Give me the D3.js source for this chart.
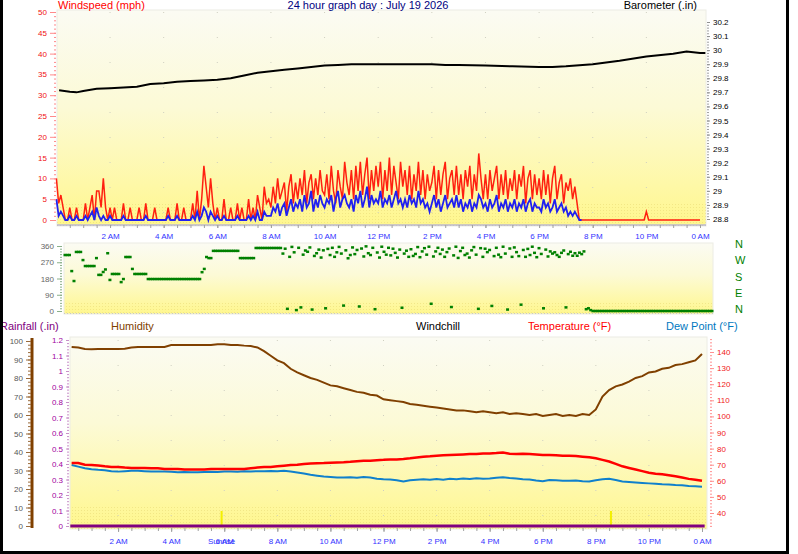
<!DOCTYPE html>
<html>
<head>
<meta charset="utf-8">
<script src="https://cdn.jsdelivr.net/npm/d3@7"></script>
<style>
body { margin: 0; background: #fff; }
svg text { font-family: "Liberation Sans", Arial, sans-serif; }
</style>
</head>
<body>
<div id="chart"></div>
<script>

// ---- data ----
const hourLabels = ["2 AM","4 AM","6 AM","8 AM","10 AM","12 PM","2 PM","4 PM","6 PM","8 PM","10 PM","0 AM"];
const labelHours = [2,4,6,8,10,12,14,16,18,20,22,24];

// wind gust (mph), one value every 5 minutes from 0:00
const windGust = [
  10,4,6,3,0,0,3,0,0,3,0,0,
  0,4,0,3,6,0,7,7,3,10,3,0,
  3,0,3,0,0,0,4,0,0,3,0,0,
  0,3,0,0,4,0,0,0,3,0,0,0,
  0,0,3,0,0,0,4,0,0,3,0,0,
  0,4,0,7,0,5,13,8,3,10,4,0,
  3,0,0,5,0,0,3,0,0,4,0,3,
  0,0,5,0,3,0,6,3,0,8,4,5,
  3,8,4,10,5,7,9,2,8,11,4,9,
  5,10,6,12,4,9,11,5,10,6,12,7,
  6,11,5,13,7,4,12,8,5,14,9,6,
  12,5,13,7,14,6,11,15,5,12,7,13,
  8,14,5,12,7,15,6,13,9,5,14,8,
  12,6,13,5,11,7,14,6,12,5,11,7,
  9,13,5,12,6,11,14,5,10,12,6,13,
  6,11,5,12,8,13,5,11,7,16,10,5,
  11,5,12,7,10,13,5,11,6,12,5,10,
  7,12,5,11,8,13,4,10,12,5,11,6,
  10,5,12,6,11,4,10,13,5,9,11,4,
  9,7,10,5,8,4,0,0,0,0,0,0,
  0,0,0,0,0,0,0,0,0,0,0,0,
  0,0,0,0,0,0,0,0,0,0,0,0,
  2,0,0,0,0,0,0,0,0,0,0,0,
  0,0,0,0,0,0,0,0,0,0,0,0,
  0
];

// average wind speed (mph), every 5 minutes until the wind dropped
const windSpeed = [
  5,1,2,1,0,0,1,0,0,1,0,0,
  0,1,0,1,2,0,3,1,0,1,0,0,
  1,0,0,0,0,0,1,0,0,0,0,0,
  0,0,0,0,1,0,0,0,0,0,0,0,
  0,0,1,0,0,0,1,0,0,0,0,0,
  0,1,0,2,0,1,3,2,0,2,1,0,
  1,0,0,1,0,0,0,0,0,1,0,0,
  0,0,1,0,1,0,2,0,0,2,1,1,
  1,3,2,4,1,3,4,1,3,5,2,4,
  3,5,2,6,3,4,7,2,5,3,6,4,
  3,5,4,6,2,5,7,3,5,6,4,3,
  5,2,6,4,7,3,5,8,3,6,4,5,
  4,7,3,5,4,6,3,5,7,4,5,3,
  5,3,6,4,5,3,7,4,5,3,4,2,
  4,6,3,5,2,4,6,3,4,5,3,6,
  3,5,2,4,3,5,2,4,3,6,5,3,
  4,2,5,3,4,6,2,4,3,5,2,4,
  3,5,2,4,3,5,2,4,5,2,4,3,
  3,2,5,3,4,2,3,5,2,3,4,2,
  3,1,2,1,2,1,0,0
];

// wind direction (degrees), every 5 minutes
const windDir = [
  310,310,310,221,166,327,327,327,282,249,249,249,
  249,249,293,200,200,216,230,320,172,205,205,205,
  205,160,177,299,299,299,233,205,205,205,205,205,
  205,177,177,177,177,177,177,177,177,177,177,177,
  177,177,177,177,177,177,177,177,177,177,177,177,
  177,215,233,299,293,293,333,333,333,333,333,333,
  333,333,333,333,333,333,293,293,293,293,293,293,
  293,349,349,349,349,349,349,349,349,349,349,349,
  349,318,345,12,300,355,325,5,350,20,312,335,
  328,352,8,305,320,340,296,336,15,344,310,350,
  300,325,355,318,30,336,292,310,352,315,338,25,
  346,302,358,320,310,350,10,324,296,356,328,312,
  350,308,345,322,296,340,18,318,334,300,342,305,
  316,354,298,330,348,312,356,40,302,330,350,316,
  340,300,326,346,22,308,356,294,332,350,310,318,
  296,336,354,312,12,348,300,345,326,338,28,304,
  350,312,298,356,318,8,346,300,352,326,304,35,
  338,300,344,310,356,322,298,348,316,15,340,302,
  330,318,325,310,300,322,335,20,315,328,306,320,
  306,323,315,330,10,15,5,0,0,0,0,0,
  0,0,0,0,0,0,0,0,0,0,0,0,
  0,0,0,0,0,0,0,0,0,0,0,0,
  0,0,0,0,0,0,0,0,0,0,0,0,
  0,0,0,0,0,0,0,0,0,0,0,0,
  0
];

// barometer (in)
const baroHours = [0.1,0.5,0.75,1,1.5,2,2.5,3,3.5,4,4.5,5,5.5,6,6.5,7,7.5,8,8.5,9,9.5,10,10.5,11,
  11.5,12,13,14,14.5,15,16,17,18,18.5,19,20,21,22,23,23.5,24,24.2];
const baro = [29.715,29.705,29.70,29.71,29.725,29.73,29.735,29.74,29.76,29.765,29.775,29.78,
  29.785,29.79,29.80,29.82,29.84,29.85,29.86,29.87,29.88,29.89,29.895,29.90,29.90,29.90,29.90,
  29.90,29.895,29.895,29.89,29.885,29.88,29.88,29.885,29.90,29.925,29.955,29.975,29.99,29.98,29.98];

// humidity / temperature / dew point, every 15 minutes from 0:15
const humidity = [
  96.8,96.5,95.7,95.5,95.7,95.7,95.7,95.7,95.8,96.5,96.8,96.8,
  96.8,96.8,96.8,97.8,97.8,97.8,97.8,97.8,97.8,97.8,98.3,98.3,
  97.8,97.8,97.5,97.3,96.5,94.5,92,89.5,88,85,83,81.5,
  80,79,77.5,76,75.5,74.5,73.5,72.5,72,71,70.5,68.5,
  68,67.5,67,66,65.5,65,64.5,64,63.5,63,62.5,62.5,
  62,61.5,62,61.5,61,61.5,60.5,61,60.5,60,60.5,59.5,
  60,60.5,59.5,60,59.5,60.5,60,63,70,73.5,75.5,76.5,
  78,80,81,83,83.5,85,85.5,87,87.5,88.5,89.5,93
];
const temperature = [
  71,71,70,69.8,69.5,69,68.6,68.6,68.2,68,68,68,
  67.8,67.8,67.4,67.4,67.4,67,67,67,67,67.4,67.4,67.4,
  67.4,67.4,67.4,67.8,68.2,68.6,68.6,69,69.4,69.8,70,70.5,
  70.7,70.9,71,71.2,71.4,71.5,71.8,72.2,72.5,72.5,72.8,73,
  73.3,73.3,73.6,74,74.5,75,75.2,75.5,75.8,76,76.2,76.4,
  76.6,76.6,77,77,77.2,77.5,76.8,76.6,76.8,76.6,76.4,76,
  76,75.8,75.6,75.6,75.4,75,74.6,74,73,72,70.5,69,
  68,67,66,65,64.4,64,63.4,62.8,62,61.2,60.6,60
];
const dewPoint = [
  69.8,68.8,67.8,67.2,66.8,66.6,65.9,65.7,66,66.3,66.2,66,
  65.8,65.7,65.7,65.6,65.3,65.5,65.3,65.3,65.5,65.6,65.5,65.7,
  65.7,65.6,65.9,65.8,66,66,66.1,66,66.2,65.8,65.2,64.6,
  63.8,63.2,62.6,62.4,62.1,62,62.2,61.9,62.4,62,61.3,61,
  60.8,60.4,59.6,60.3,60.6,60.9,60.7,61.1,60.6,61.3,61,61.4,
  61.1,61.6,61.3,61.5,61.9,62.2,61.7,61.4,61,60.8,60.2,59.8,
  60.5,60.3,60.1,60,60.2,59.7,59.5,60.3,61,61.3,60.5,59.6,
  59.3,59,58.7,58.4,58.1,57.8,57.7,57.4,57.2,56.8,56.6,56.3
];

// rainfall (in) - no rain all day
const rainHours = [0.2, 24.1];
const rainfall = [0, 0];

// sunrise / sunset (hours)
const sunHours = [5.9, 20.57];

// ---- drawing ----
const W = 798, H = 554;
const FONT = "Liberation Sans, Arial, sans-serif";

const svg = d3.select("#chart").append("svg")
  .attr("width", W).attr("height", H);

svg.append("rect").attr("width", W).attr("height", H).attr("fill", "#fff");

const defs = svg.append("defs");
const grad = defs.append("linearGradient").attr("id", "bg")
  .attr("x1", 0).attr("y1", 0).attr("x2", 0).attr("y2", 1);
grad.append("stop").attr("offset", "0%").attr("stop-color", "#fbfbf3");
grad.append("stop").attr("offset", "45%").attr("stop-color", "#fcfad6");
grad.append("stop").attr("offset", "100%").attr("stop-color", "#fff78e");

const pat = defs.append("pattern").attr("id", "dots")
  .attr("width", 3).attr("height", 3).attr("patternUnits", "userSpaceOnUse");
pat.append("rect").attr("width", 1).attr("height", 1).attr("fill", "#eadc78");

function panelBg(x0, y0, x1, y1, band) {
  svg.append("rect").attr("x", x0).attr("y", y0)
    .attr("width", x1 - x0).attr("height", y1 - y0)
    .attr("fill", "url(#bg)").attr("stroke", "#ecece4");
  svg.append("rect").attr("x", x0).attr("y", y1 - band)
    .attr("width", x1 - x0).attr("height", band)
    .attr("fill", "url(#dots)").attr("opacity", 0.6);
}

function styleAxis(g, tickColor, textColor, size) {
  g.select(".domain").remove();
  g.attr("font-family", FONT).attr("font-size", size);
  g.selectAll(".tick line").attr("stroke", tickColor);
  g.selectAll(".tick text").attr("fill", textColor);
  return g;
}

function label(x, y, txt, color, anchor, size) {
  svg.append("text").attr("x", x).attr("y", y)
    .attr("text-anchor", anchor || "start")
    .attr("font-size", size || 11)
    .attr("fill", color).text(txt);
}

const step = 1 / 12;
const fmt1 = d => String(+d.toFixed(2));

// ===== panel 1: wind speed + barometer =====
const x1 = d3.scaleLinear().domain([0, 24]).range([56.4, 700]);
const yWind = d3.scaleLinear().domain([0, 50]).range([220, 12]);
const yBaro = d3.scaleLinear().domain([28.8, 30.2]).range([219, 22]);

panelBg(57, 10, 706, 226, 22);

// faint grid
svg.append("g").selectAll("line").data(labelHours.slice(0, -1)).join("line")
  .attr("x1", d => x1(d)).attr("x2", d => x1(d)).attr("y1", 12).attr("y2", 224)
  .attr("stroke", "#cfcfc0").attr("stroke-dasharray", "1,24");

const baroLine = d3.line().x((d, i) => x1(baroHours[i])).y(d => yBaro(d));
svg.append("path").datum(baro).attr("d", baroLine)
  .attr("fill", "none").attr("stroke", "#000").attr("stroke-width", 2);

const gustLine = d3.line().x((d, i) => x1(i * step)).y(d => yWind(d));
svg.append("path").datum(windGust).attr("d", gustLine)
  .attr("fill", "none").attr("stroke", "#ff2010").attr("stroke-width", 1.5);
svg.append("path").datum(windSpeed).attr("d", gustLine)
  .attr("fill", "none").attr("stroke", "#2020f0").attr("stroke-width", 1.8);

// bottom line + time axis
svg.append("line").attr("x1", 57).attr("x2", 706).attr("y1", 225).attr("y2", 225)
  .attr("stroke", "#9a9af0");
styleAxis(svg.append("g").attr("transform", "translate(0,225)")
  .call(d3.axisBottom(x1).tickValues(d3.range(1, 48).map(v => v / 2)).tickSize(3).tickFormat("")),
  "#a0a0a0", "#000", 8);
styleAxis(svg.append("g").attr("transform", "translate(0,225)")
  .call(d3.axisBottom(x1).tickValues(labelHours).tickSize(3).tickPadding(5)
    .tickFormat((d, i) => hourLabels[i])),
  "#a0a0a0", "#3333ff", 8);

// wind axis (left)
styleAxis(svg.append("g").attr("transform", "translate(56,0)")
  .call(d3.axisLeft(yWind).tickValues(d3.range(0, 51)).tickSize(2).tickFormat("")),
  "#ff8a8a", "#f00", 8);
styleAxis(svg.append("g").attr("transform", "translate(56,0)")
  .call(d3.axisLeft(yWind).tickValues(d3.range(0, 51, 5)).tickSize(6).tickPadding(3)),
  "#ff8a8a", "#f01010", 8);

// barometer axis (right)
styleAxis(svg.append("g").attr("transform", "translate(707,0)")
  .call(d3.axisRight(yBaro).tickValues(d3.range(1440, 1511).map(v => v / 50)).tickSize(2).tickFormat("")),
  "#a0a0a0", "#000", 8);
styleAxis(svg.append("g").attr("transform", "translate(707,0)")
  .call(d3.axisRight(yBaro).tickValues(d3.range(288, 303).map(v => v / 10)).tickSize(3).tickPadding(3).tickFormat(fmt1)),
  "#909090", "#000", 8);

label(58, 9, "Windspeed (mph)", "#ff0000", "start", 11);
label(368, 9, "24 hour graph day : July 19 2026", "#000080", "middle", 11);
label(697, 9, "Barometer (.in)", "#000", "end", 11);

// ===== panel 2: wind direction =====
const x2 = d3.scaleLinear().domain([0, 24]).range([65, 712]);
const yDir = d3.scaleLinear().domain([0, 360]).range([311, 246]);

panelBg(64, 243, 713, 314, 12);

svg.append("line").attr("x1", 64).attr("x2", 713).attr("y1", 313.5).attr("y2", 313.5)
  .attr("stroke", "#c8c8c8").attr("stroke-dasharray", "1,2");

svg.append("g").selectAll("rect").data(windDir).join("rect")
  .attr("x", (d, i) => x2(i * step) - 1.5)
  .attr("y", d => yDir(d) - 1.25)
  .attr("width", 3).attr("height", 2.5)
  .attr("fill", "#008000");

styleAxis(svg.append("g").attr("transform", "translate(62,0)")
  .call(d3.axisLeft(yDir).tickValues(d3.range(0, 361, 15)).tickSize(2).tickFormat("")),
  "#8ab08a", "#666", 8);
styleAxis(svg.append("g").attr("transform", "translate(62,0)")
  .call(d3.axisLeft(yDir).tickValues([0, 90, 180, 270, 360]).tickSize(5).tickPadding(3)),
  "#8ab08a", "#666", 8);

const compass = ["N", "W", "S", "E", "N"];
svg.append("g").selectAll("text").data([360, 270, 180, 90, 0]).join("text")
  .attr("x", 735).attr("y", d => yDir(d) + 2)
  .attr("font-size", 11).attr("fill", "#008000")
  .text((d, i) => compass[i]);

// ===== panel 3: rain, humidity, temperature, dew point =====
const x3 = d3.scaleLinear().domain([0, 24]).range([65, 702]);
const yHum = d3.scaleLinear().domain([0, 100]).range([526, 341]);
const yRain = d3.scaleLinear().domain([0, 1.2]).range([526, 340]);
const yTemp = d3.scaleLinear().domain([40, 140]).range([513, 352]);

panelBg(70, 337, 707, 529, 22);

svg.append("g").selectAll("line").data(labelHours.slice(0, -1)).join("line")
  .attr("x1", d => x3(d)).attr("x2", d => x3(d)).attr("y1", 340).attr("y2", 525)
  .attr("stroke", "#cfcfc0").attr("stroke-dasharray", "1,24");

// sunrise / sunset markers
svg.append("g").selectAll("line").data(sunHours).join("line")
  .attr("x1", d => x3(d)).attr("x2", d => x3(d)).attr("y1", 511).attr("y2", 526)
  .attr("stroke", "#f4f000").attr("stroke-width", 2);

const metX = (d, i) => x3((i + 1) / 4);
svg.append("path").datum(humidity)
  .attr("d", d3.line().x(metX).y(d => yHum(d)))
  .attr("fill", "none").attr("stroke", "#804000").attr("stroke-width", 2);
svg.append("path").datum(dewPoint)
  .attr("d", d3.line().x(metX).y(d => yTemp(d)))
  .attr("fill", "none").attr("stroke", "#1080cc").attr("stroke-width", 2);
svg.append("path").datum(temperature)
  .attr("d", d3.line().x(metX).y(d => yTemp(d)))
  .attr("fill", "none").attr("stroke", "#ff0000").attr("stroke-width", 2.5);
svg.append("path").datum(rainfall)
  .attr("d", d3.line().x((d, i) => x3(rainHours[i])).y(d => yRain(d)))
  .attr("fill", "none").attr("stroke", "#800080").attr("stroke-width", 3);

// time axis
styleAxis(svg.append("g").attr("transform", "translate(0,528)")
  .call(d3.axisBottom(x3).tickValues(d3.range(1, 48).map(v => v / 2)).tickSize(3).tickFormat("")),
  "#a0a0a0", "#000", 8);
styleAxis(svg.append("g").attr("transform", "translate(0,528)")
  .call(d3.axisBottom(x3).tickValues(labelHours).tickSize(4).tickPadding(6)
    .tickFormat((d, i) => hourLabels[i])),
  "#a0a0a0", "#3333ff", 8);
svg.append("text").attr("x", x3(sunHours[0])).attr("y", 544)
  .attr("text-anchor", "middle").attr("font-size", 8).attr("fill", "#3333ff")
  .text("Sunrise");

// humidity axis (outer left, brown)
svg.append("line").attr("x1", 32).attr("x2", 32).attr("y1", 338).attr("y2", 528)
  .attr("stroke", "#804000").attr("stroke-width", 3);
styleAxis(svg.append("g").attr("transform", "translate(31,0)")
  .call(d3.axisLeft(yHum).tickValues(d3.range(0, 101, 2)).tickSize(3).tickFormat("")),
  "#9a6a3a", "#555", 8);
styleAxis(svg.append("g").attr("transform", "translate(31,0)")
  .call(d3.axisLeft(yHum).tickValues(d3.range(0, 101, 10)).tickSize(5).tickPadding(3)),
  "#9a6a3a", "#555", 8);

// rain axis
styleAxis(svg.append("g").attr("transform", "translate(69,0)")
  .call(d3.axisLeft(yRain).tickValues(d3.range(0, 61).map(v => v / 50)).tickSize(2).tickFormat("")),
  "#c890c8", "#a000a0", 8);
styleAxis(svg.append("g").attr("transform", "translate(69,0)")
  .call(d3.axisLeft(yRain).tickValues(d3.range(0, 13).map(v => v / 10)).tickSize(3).tickPadding(3).tickFormat(fmt1)),
  "#c890c8", "#a000a0", 8);

// temperature axis (right)
styleAxis(svg.append("g").attr("transform", "translate(710,0)")
  .call(d3.axisRight(yTemp).tickValues(d3.range(32, 149, 2)).tickSize(2).tickFormat("")),
  "#ff9090", "#f00", 8);
styleAxis(svg.append("g").attr("transform", "translate(710,0)")
  .call(d3.axisRight(yTemp).tickValues(d3.range(40, 141, 10)).tickSize(4).tickPadding(3)),
  "#ff9090", "#f02020", 8);

label(0, 330, "Rainfall (.in)", "#800080", "start", 11);
label(111, 330, "Humidity", "#804000", "start", 11);
label(416, 330, "Windchill", "#000", "start", 11);
label(528, 330, "Temperature (°F)", "#ff0000", "start", 11);
label(666, 330, "Dew Point (°F)", "#0078c0", "start", 11);

// outer frame
svg.append("rect").attr("x", 0).attr("y", 0).attr("width", 3).attr("height", 554).attr("fill", "#000");
svg.append("rect").attr("x", 786).attr("y", 0).attr("width", 3).attr("height", 554).attr("fill", "#000");
svg.append("rect").attr("x", 0).attr("y", 551).attr("width", 789).attr("height", 3).attr("fill", "#000");

</script>
</body>
</html>
